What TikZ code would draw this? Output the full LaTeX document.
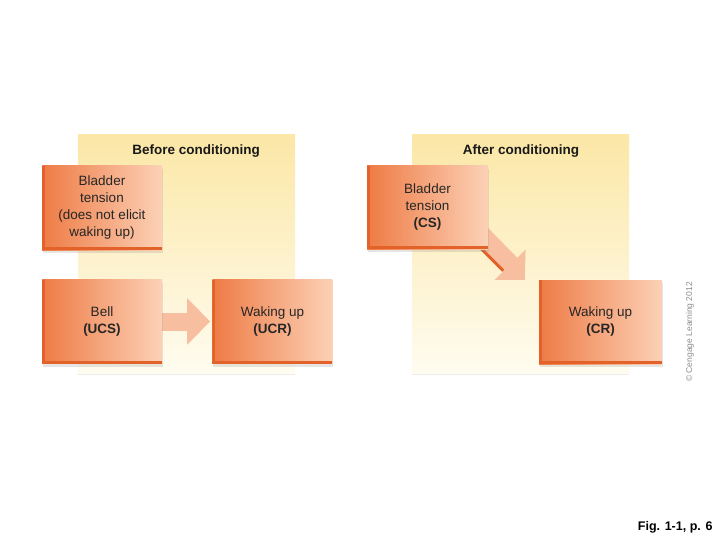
\documentclass[tikz,border=0pt]{standalone}
\usepackage{fontspec}
\setmainfont{Liberation Sans}
\usepackage{tikz}
\usetikzlibrary{arrows.meta,positioning,shadows}
\definecolor{pnltop}{HTML}{FBE7A6}
\definecolor{pnlbot}{HTML}{FFFCF0}
\definecolor{boxdark}{HTML}{EE7B45}
\definecolor{boxlight}{HTML}{FCD1B6}
\definecolor{boxrim}{HTML}{E2622A}
\definecolor{arrfill}{HTML}{F7BE9F}
\pgfdeclarelayer{panels}
\pgfdeclarelayer{arrows}
\pgfsetlayers{panels,arrows,main}

\begin{document}
\begin{tikzpicture}[x=1pt,y=-1pt,
  panel/.style={minimum width=217pt,minimum height=238pt,inner sep=0pt,
    top color=pnltop,bottom color=pnlbot,
    drop shadow={shadow xshift=0pt,shadow yshift=-2pt,opacity=.15}},
  stim/.style={minimum width=120pt,minimum height=84pt,inner sep=0pt,align=center,
    left color=boxdark,right color=boxlight,text=black!85,
    font=\fontsize{13.5}{17}\selectfont,
    drop shadow={shadow xshift=1pt,shadow yshift=-3pt,opacity=.2},
    path picture={
      \fill[boxrim] (path picture bounding box.north west) rectangle ([xshift=3pt]path picture bounding box.south west);
      \fill[boxrim] (path picture bounding box.south west) rectangle ([yshift=3pt]path picture bounding box.south east);}},
  ttl/.style={font=\fontsize{13.5}{16}\selectfont\bfseries,text=black!90},
  fat/.style={draw=arrfill,line width=18pt},
  fatdiag/.style={draw=arrfill,line width=20pt}]
  \useasboundingbox (0,0) rectangle (720,540);
  \begin{pgfonlayer}{panels}
    \fill[white] (0,0) rectangle (720,540);
    \node[panel] (before) at (186.5,254) {};
    \node[panel] (after) at (520.5,254) {};
  \end{pgfonlayer}
  \node[ttl] (beforettl) at (196,151) {Before conditioning};
  \node[ttl] (afterttl) at (521,151) {After conditioning};
  \node[stim] (bladderA) at (102,208) {Bladder\\tension\\(does not elicit\\waking up)};
  \node[stim] (bell) at (102,321.5) {Bell\\\textbf{(UCS)}};
  \node[stim,right=50pt of bell] (ucr) {Waking up\\\textbf{(UCR)}};
  \node[stim,minimum width=121pt,minimum height=83pt] (bladderB) at (427.5,207.5) {Bladder\\tension\\\textbf{(CS)}};
  \node[stim,minimum width=123pt] (cr) at (600.5,322) {Waking up\\\textbf{(CR)}};
  \coordinate (crtip) at ([xshift=-14pt]cr.north west);
  \begin{pgfonlayer}{arrows}
    \draw[fat,-{Triangle[width=45pt,length=23pt]},shorten >=2pt] (bell) -- (ucr);
    \draw[fatdiag,-{Triangle[width=42pt,length=21pt]}] ([xshift=-10pt,yshift=17pt]bladderB.south east) -- (crtip);
    \draw[boxrim,line width=3pt] ([xshift=-8pt,yshift=1.5pt]bladderB.south east) -- ++(23pt,-23pt);
  \end{pgfonlayer}
  \node[rotate=90,text=black!45,font=\fontsize{8.5}{10}\selectfont] (credit) at (690,332) {\textcopyright\ Cengage Learning 2012};
  \node[anchor=east,font=\fontsize{12.5}{15}\selectfont\bfseries] (figref) at (716,527) {Fig. 1-1, p. 6};
\end{tikzpicture}
\end{document}
